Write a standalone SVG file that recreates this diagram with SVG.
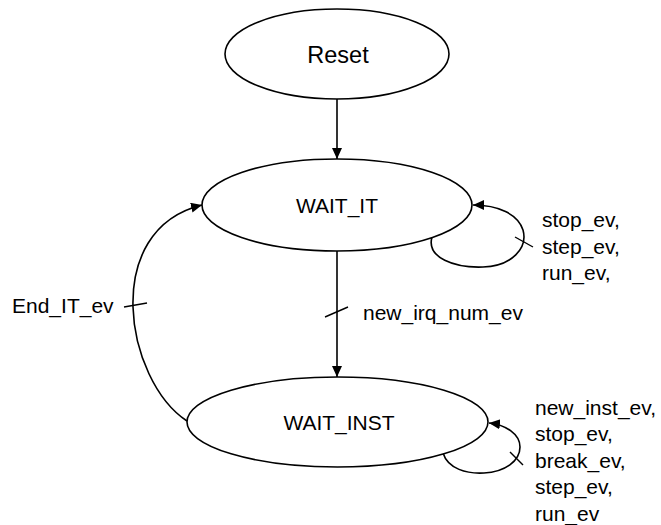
<svg xmlns="http://www.w3.org/2000/svg" width="661" height="525" viewBox="0 0 661 525">
<style>
.node{fill:#fff;stroke:#000;stroke-width:1.6}
.edge{fill:none;stroke:#000;stroke-width:1.6}
.tick{fill:none;stroke:#000;stroke-width:1.4}
text{font-family:"Liberation Sans",Arial,sans-serif;fill:#000}
.nl{font-size:21px;text-anchor:middle}
.el{font-size:21px}
</style>
<defs>
<marker id="ah" markerUnits="userSpaceOnUse" markerWidth="12" markerHeight="11" refX="11" refY="5" orient="auto">
<path d="M0,0 L11,5 L0,10 z" fill="#000"/>
</marker>
</defs>
<rect width="661" height="525" fill="#fff"/>
<g id="connectors">
<path class="edge" d="M337,99 L337,159" marker-end="url(#ah)"/>
<path class="edge" d="M337,251 L337,377" marker-end="url(#ah)"/>
<path class="tick" d="M325,317 L348,307"/>
<text class="el" x="363" y="320">new_irq_num_ev</text>
<path class="edge" d="M187,421 C125,380 100,230 202,205" marker-end="url(#ah)"/>
<path class="tick" d="M124,307 L147,303"/>
<text class="el" x="12" y="313">End_IT_ev</text>
<path class="edge" d="M432,237 C426,258 455,268 483,267 C512,266 528,248 523,230 C518,214 498,205 473,205" marker-end="url(#ah)"/>
<path class="tick" d="M515,237 L533,247"/>
<text class="el" x="542"><tspan x="542" y="227">stop_ev,</tspan><tspan x="542" y="253.5">step_ev,</tspan><tspan x="542" y="280">run_ev,</tspan></text>
<path class="edge" d="M443,453 C448,469 467,474 484,473 C505,472 520,461 520,447 C520,434 506,425 489,423" marker-end="url(#ah)"/>
<path class="tick" d="M510,452 L523,465"/>
<text class="el"><tspan x="535" y="414.5">new_inst_ev,</tspan><tspan x="535" y="441">stop_ev,</tspan><tspan x="535" y="467.5">break_ev,</tspan><tspan x="535" y="494">step_ev,</tspan><tspan x="535" y="520.5">run_ev</tspan></text>
</g>
<g id="reset">
<ellipse class="node" cx="337" cy="54" rx="112" ry="45"/>
<text class="nl" x="338" y="63" style="font-size:23.5px">Reset</text>
</g>
<g id="wait_it">
<ellipse class="node" cx="337" cy="205" rx="135" ry="46"/>
<text class="nl" x="337" y="213">WAIT_IT</text>
</g>
<g id="wait_inst">
<ellipse class="node" cx="337.5" cy="422" rx="150.5" ry="45"/>
<text class="nl" x="339" y="430">WAIT_INST</text>
</g>
</svg>
